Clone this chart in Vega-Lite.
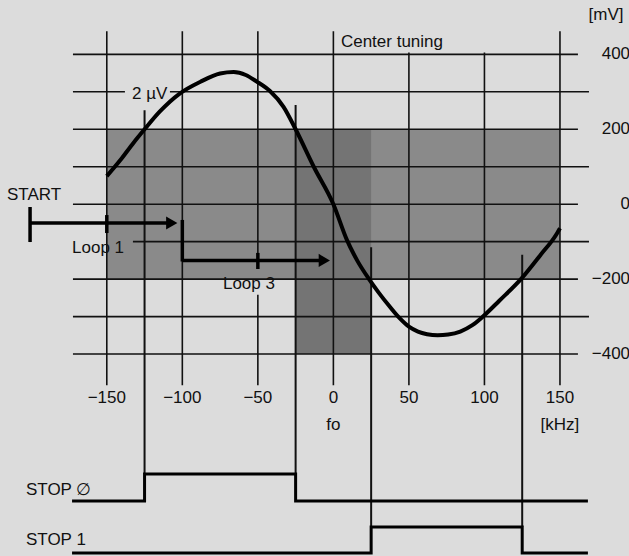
{
  "$schema": "https://vega.github.io/schema/vega-lite/v6.json",
  "width": 629,
  "height": 556,
  "autosize": {"type": "none"},
  "padding": 0,
  "background": "#dcdcdc",
  "config": {"view": {"stroke": null}, "text": {"font": "Liberation Sans", "fontSize": 17, "color": "#111"}},
  "datasets": {
    "shade": [
      {"zone": "band", "f": -150, "f2": 150, "v": -200, "v2": 200},
      {"zone": "column", "f": -25, "f2": 25, "v": -400, "v2": 200}
    ],
    "hgrid": [
      {"v": 400, "f": -172.4, "f2": 161.9},
      {"v": 300, "f": -172.4, "f2": -138},
      {"v": 300, "f": -108.2, "f2": 169.2},
      {"v": 200, "f": -172.4, "f2": 161.9},
      {"v": 100, "f": -172.4, "f2": 169.2},
      {"v": 0, "f": -172.4, "f2": 161.9},
      {"v": -100, "f": -132.7, "f2": 169.2},
      {"v": -200, "f": -172.4, "f2": 161.9},
      {"v": -300, "f": -172.4, "f2": 169.2},
      {"v": -400, "f": -172.4, "f2": 161.9}
    ],
    "vgrid": [
      {"f": -150, "v": 462, "v2": -483},
      {"f": -100, "v": 462, "v2": -483},
      {"f": -50, "v": 462, "v2": -173},
      {"f": -50, "v": -242, "v2": -483},
      {"f": 0, "v": 462, "v2": -483},
      {"f": 50, "v": 405, "v2": -483},
      {"f": 100, "v": 405, "v2": -483},
      {"f": 150, "v": 462, "v2": -483}
    ],
    "markers": [
      {"f": -125, "v": 251, "v2": -720},
      {"f": -25, "v": 265, "v2": -720},
      {"f": 25, "v": -115, "v2": -862},
      {"f": 125, "v": -135, "v2": -862}
    ],
    "curve": [
      {"f": -150, "v": 75}, {"f": -141, "v": 118}, {"f": -132.5, "v": 163},
      {"f": -125, "v": 200}, {"f": -115, "v": 247}, {"f": -101.5, "v": 296},
      {"f": -88, "v": 327}, {"f": -75, "v": 349}, {"f": -66, "v": 353},
      {"f": -58, "v": 345}, {"f": -51, "v": 328}, {"f": -42, "v": 302},
      {"f": -33, "v": 260}, {"f": -25, "v": 200}, {"f": -13, "v": 100},
      {"f": 0, "v": 0}, {"f": 9, "v": -96}, {"f": 16, "v": -152},
      {"f": 23.6, "v": -200}, {"f": 30, "v": -236}, {"f": 37, "v": -272},
      {"f": 44, "v": -305}, {"f": 50, "v": -327}, {"f": 56, "v": -340},
      {"f": 62, "v": -347}, {"f": 69, "v": -350}, {"f": 76, "v": -348},
      {"f": 84, "v": -340}, {"f": 92, "v": -323}, {"f": 99, "v": -300},
      {"f": 110, "v": -257}, {"f": 124.6, "v": -198}, {"f": 137, "v": -136},
      {"f": 148, "v": -78}, {"f": 150, "v": -64}
    ],
    "signals": [
      {"sig": "STOP0", "step": 1, "f": -173, "v": -792},
      {"sig": "STOP0", "step": 2, "f": -125, "v": -792},
      {"sig": "STOP0", "step": 3, "f": -125, "v": -720},
      {"sig": "STOP0", "step": 4, "f": -25, "v": -720},
      {"sig": "STOP0", "step": 5, "f": -25, "v": -792},
      {"sig": "STOP0", "step": 6, "f": 168.5, "v": -792},
      {"sig": "STOP1", "step": 1, "f": -173, "v": -931},
      {"sig": "STOP1", "step": 2, "f": 25, "v": -931},
      {"sig": "STOP1", "step": 3, "f": 25, "v": -862},
      {"sig": "STOP1", "step": 4, "f": 125, "v": -862},
      {"sig": "STOP1", "step": 5, "f": 125, "v": -931},
      {"sig": "STOP1", "step": 6, "f": 168.5, "v": -931}
    ],
    "arrows": [
      {"f": -200.8, "v": -7.5, "f2": -200.8, "v2": -101},
      {"f": -200.8, "v": -50, "f2": -106, "v2": -50},
      {"f": -150, "v": -29, "f2": -150, "v2": -77},
      {"f": -100, "v": -42, "f2": -100, "v2": -153},
      {"f": -100, "v": -150, "f2": -6, "v2": -150},
      {"f": -50, "v": -130, "f2": -50, "v2": -173}
    ],
    "heads": [
      {"f": -107, "v": -50},
      {"f": -6, "v": -150}
    ],
    "leftLabels": [
      {"t": "START", "f": -216.1, "v": 24.6},
      {"t": "Loop 1", "f": -173, "v": -118},
      {"t": "Loop 3", "f": -73.1, "v": -211.7},
      {"t": "2 µV", "f": -133.3, "v": 295.5},
      {"t": "Center tuning", "f": 5, "v": 431.7},
      {"t": "STOP ∅", "f": -203.5, "v": -762.9},
      {"t": "STOP 1", "f": -203.5, "v": -896.4}
    ],
    "centerLabels": [
      {"t": "−150", "f": -150, "v": -517},
      {"t": "−100", "f": -100, "v": -517},
      {"t": "−50", "f": -50, "v": -517},
      {"t": "0", "f": 0, "v": -517},
      {"t": "50", "f": 50, "v": -517},
      {"t": "100", "f": 100, "v": -517},
      {"t": "150", "f": 150, "v": -517},
      {"t": "fo", "f": 0, "v": -589},
      {"t": "[kHz]", "f": 150, "v": -589},
      {"t": "[mV]", "f": 180.5, "v": 505}
    ],
    "rightLabels": [
      {"t": "400", "f": 196.4, "v": 400},
      {"t": "200", "f": 196.4, "v": 200},
      {"t": "0", "f": 196.4, "v": 0},
      {"t": "−200", "f": 196.4, "v": -200},
      {"t": "−400", "f": 196.4, "v": -400}
    ]
  },
  "layer": [
    {
      "data": {"name": "shade"},
      "mark": {"type": "rect"},
      "encoding": {
        "x": {"field": "f", "type": "quantitative", "scale": {"domain": [-220.7, 195.7], "nice": false, "zero": false}, "axis": null},
        "x2": {"field": "f2"},
        "y": {"field": "v", "type": "quantitative", "scale": {"domain": [-939.1, 545.1], "nice": false, "zero": false}, "axis": null},
        "y2": {"field": "v2"},
        "color": {"field": "zone", "type": "nominal", "scale": {"domain": ["band", "column"], "range": ["#8a8a8a", "#747474"]}, "legend": null}
      }
    },
    {
      "data": {"name": "hgrid"},
      "mark": {"type": "rule", "color": "#111", "strokeWidth": 1.6},
      "encoding": {
        "x": {"field": "f", "type": "quantitative", "scale": {"domain": [-220.7, 195.7], "nice": false, "zero": false}, "axis": null},
        "x2": {"field": "f2"},
        "y": {"field": "v", "type": "quantitative", "scale": {"domain": [-939.1, 545.1], "nice": false, "zero": false}, "axis": null}
      }
    },
    {
      "data": {"name": "vgrid"},
      "mark": {"type": "rule", "color": "#111", "strokeWidth": 1.6},
      "encoding": {
        "x": {"field": "f", "type": "quantitative", "scale": {"domain": [-220.7, 195.7], "nice": false, "zero": false}, "axis": null},
        "y": {"field": "v", "type": "quantitative", "scale": {"domain": [-939.1, 545.1], "nice": false, "zero": false}, "axis": null},
        "y2": {"field": "v2"}
      }
    },
    {
      "data": {"name": "markers"},
      "mark": {"type": "rule", "color": "#111", "strokeWidth": 2},
      "encoding": {
        "x": {"field": "f", "type": "quantitative", "scale": {"domain": [-220.7, 195.7], "nice": false, "zero": false}, "axis": null},
        "y": {"field": "v", "type": "quantitative", "scale": {"domain": [-939.1, 545.1], "nice": false, "zero": false}, "axis": null},
        "y2": {"field": "v2"}
      }
    },
    {
      "data": {"name": "curve"},
      "mark": {"type": "line", "color": "#000", "strokeWidth": 4, "interpolate": "monotone"},
      "encoding": {
        "x": {"field": "f", "type": "quantitative", "scale": {"domain": [-220.7, 195.7], "nice": false, "zero": false}, "axis": null},
        "y": {"field": "v", "type": "quantitative", "scale": {"domain": [-939.1, 545.1], "nice": false, "zero": false}, "axis": null}
      }
    },
    {
      "data": {"name": "signals"},
      "mark": {"type": "line", "color": "#000", "strokeWidth": 3, "strokeJoin": "miter"},
      "encoding": {
        "x": {"field": "f", "type": "quantitative", "scale": {"domain": [-220.7, 195.7], "nice": false, "zero": false}, "axis": null},
        "y": {"field": "v", "type": "quantitative", "scale": {"domain": [-939.1, 545.1], "nice": false, "zero": false}, "axis": null},
        "detail": {"field": "sig"},
        "order": {"field": "step", "type": "quantitative"}
      }
    },
    {
      "data": {"name": "arrows"},
      "mark": {"type": "rule", "color": "#000", "strokeWidth": 3.5},
      "encoding": {
        "x": {"field": "f", "type": "quantitative", "scale": {"domain": [-220.7, 195.7], "nice": false, "zero": false}, "axis": null},
        "x2": {"field": "f2"},
        "y": {"field": "v", "type": "quantitative", "scale": {"domain": [-939.1, 545.1], "nice": false, "zero": false}, "axis": null},
        "y2": {"field": "v2"}
      }
    },
    {
      "data": {"name": "heads"},
      "mark": {"type": "point", "shape": "triangle-right", "filled": true, "color": "#000", "size": 170, "opacity": 1},
      "encoding": {
        "x": {"field": "f", "type": "quantitative", "scale": {"domain": [-220.7, 195.7], "nice": false, "zero": false}, "axis": null},
        "y": {"field": "v", "type": "quantitative", "scale": {"domain": [-939.1, 545.1], "nice": false, "zero": false}, "axis": null}
      }
    },
    {
      "data": {"name": "leftLabels"},
      "mark": {"type": "text", "align": "left", "baseline": "middle"},
      "encoding": {
        "x": {"field": "f", "type": "quantitative", "scale": {"domain": [-220.7, 195.7], "nice": false, "zero": false}, "axis": null},
        "y": {"field": "v", "type": "quantitative", "scale": {"domain": [-939.1, 545.1], "nice": false, "zero": false}, "axis": null},
        "text": {"field": "t"}
      }
    },
    {
      "data": {"name": "centerLabels"},
      "mark": {"type": "text", "align": "center", "baseline": "middle"},
      "encoding": {
        "x": {"field": "f", "type": "quantitative", "scale": {"domain": [-220.7, 195.7], "nice": false, "zero": false}, "axis": null},
        "y": {"field": "v", "type": "quantitative", "scale": {"domain": [-939.1, 545.1], "nice": false, "zero": false}, "axis": null},
        "text": {"field": "t"}
      }
    },
    {
      "data": {"name": "rightLabels"},
      "mark": {"type": "text", "align": "right", "baseline": "middle"},
      "encoding": {
        "x": {"field": "f", "type": "quantitative", "scale": {"domain": [-220.7, 195.7], "nice": false, "zero": false}, "axis": null},
        "y": {"field": "v", "type": "quantitative", "scale": {"domain": [-939.1, 545.1], "nice": false, "zero": false}, "axis": null},
        "text": {"field": "t"}
      }
    }
  ]
}
